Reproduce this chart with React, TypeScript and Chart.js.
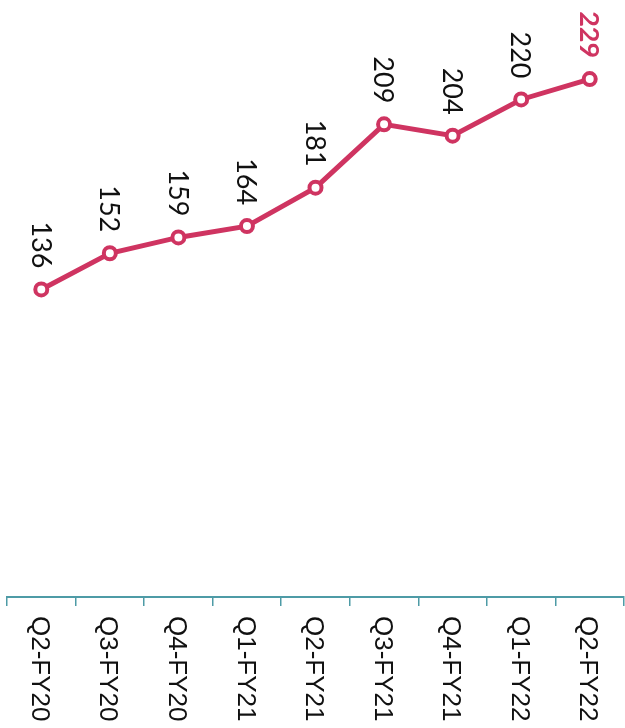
import React, { useEffect, useRef } from "react";
import { Chart, registerables } from "chart.js";

Chart.register(...registerables);

// Quarterly figures
const quarters = [
  "Q2-FY20",
  "Q3-FY20",
  "Q4-FY20",
  "Q1-FY21",
  "Q2-FY21",
  "Q3-FY21",
  "Q4-FY21",
  "Q1-FY22",
  "Q2-FY22",
];
const values = [136, 152, 159, 164, 181, 209, 204, 220, 229];

const LINE_COLOR = "#CF3461";
const AXIS_COLOR = "#4E9BA6";
const TEXT_COLOR = "#111111";

// Draws the quarter labels and the value labels turned a quarter turn clockwise
const rotatedText = {
  id: "rotatedText",
  afterDraw(chart: any) {
    const ctx = chart.ctx as CanvasRenderingContext2D;
    const xScale = chart.scales.x;
    const bottom = chart.chartArea.bottom;

    // quarter labels under the axis
    const tickSize = 26;
    quarters.forEach((q, i) => {
      const px = xScale.getPixelForValue(i);
      ctx.save();
      ctx.translate(px, bottom + 19);
      ctx.rotate(Math.PI / 2);
      ctx.font = `${tickSize}px "Liberation Sans", Arial, sans-serif`;
      ctx.fillStyle = TEXT_COLOR;
      ctx.textAlign = "left";
      ctx.textBaseline = "alphabetic";
      ctx.fillText(q, 0, tickSize * 0.36);
      ctx.restore();
    });

    // value labels above each point
    const meta = chart.getDatasetMeta(0);
    meta.data.forEach((pt: any, i: number) => {
      const last = i === values.length - 1;
      const size = 27;
      ctx.save();
      ctx.translate(pt.x, pt.y - 21);
      ctx.rotate(Math.PI / 2);
      ctx.font = `${last ? "bold " : ""}${size}px Lato, "Liberation Sans", sans-serif`;
      ctx.fillStyle = last ? LINE_COLOR : TEXT_COLOR;
      ctx.textAlign = "right";
      ctx.textBaseline = "alphabetic";
      ctx.fillText(String(values[i]), 0, size * 0.36);
      ctx.restore();
    });
  },
};

export default function App() {
  const canvasRef = useRef<HTMLCanvasElement | null>(null);

  useEffect(() => {
    if (!canvasRef.current) return;
    const chart = new Chart(canvasRef.current, {
      type: "line",
      data: {
        labels: quarters,
        datasets: [
          {
            data: values,
            borderColor: LINE_COLOR,
            borderWidth: 5,
            tension: 0,
            pointRadius: 6,
            pointHoverRadius: 6,
            pointBorderWidth: 4,
            pointBorderColor: LINE_COLOR,
            pointBackgroundColor: "#ffffff",
          },
        ],
      },
      options: {
        animation: false,
        responsive: false,
        maintainAspectRatio: false,
        layout: { autoPadding: false, padding: { top: 9, left: 7, right: 1, bottom: 0 } },
        plugins: {
          legend: { display: false },
          tooltip: { enabled: false },
        },
        scales: {
          x: {
            type: "category",
            offset: true,
            border: { display: true, color: AXIS_COLOR, width: 2 },
            grid: {
              offset: true,
              drawOnChartArea: false,
              drawTicks: true,
              tickLength: 9,
              color: AXIS_COLOR,
              lineWidth: 1.5,
            },
            ticks: { display: false },
            afterFit(scale: any) {
              scale.height = 131;
            },
          },
          y: {
            display: false,
            min: 0,
            max: 260,
          },
        },
      },
      plugins: [rotatedText],
    });
    return () => chart.destroy();
  }, []);

  return (
    <div style={{ position: "absolute", left: 0, top: 0, width: 625, height: 728, background: "#ffffff" }}>
      <canvas ref={canvasRef} width={625} height={728} style={{ display: "block" }} />
    </div>
  );
}
